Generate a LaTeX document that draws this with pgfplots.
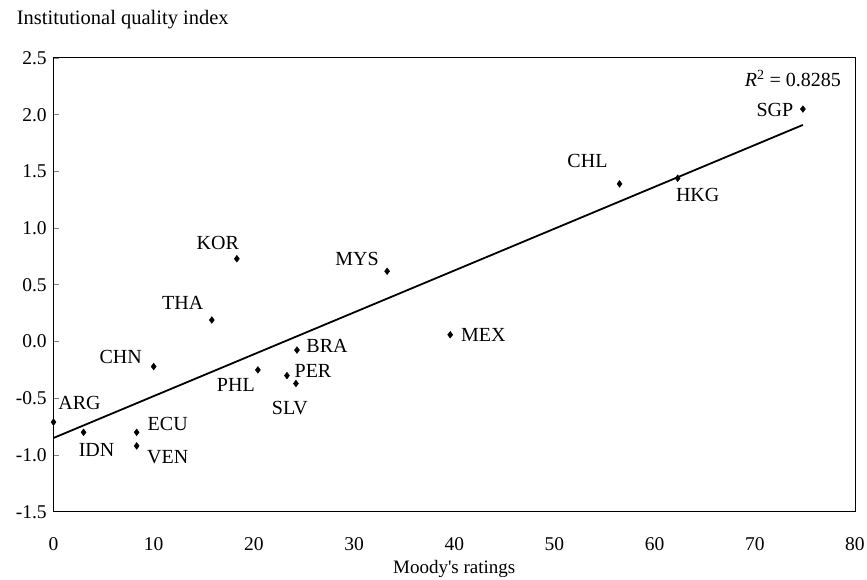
\documentclass[border=0pt]{standalone}
\usepackage{fontspec}
\setmainfont{Liberation Serif}
\newfontfamily\straight{Liberation Serif}[Ligatures=TeXOff]
\usepackage{pgfplots}
\pgfplotsset{compat=1.18}
\begin{document}
\fontsize{20}{24}\selectfont
\begin{tikzpicture}
\path[use as bounding box] (-53.5pt,-67.3pt) rectangle (813.5pt,511.7pt);
\begin{axis}[
  at={(0pt,0pt)}, anchor=south west,
  scale only axis, width=801.5pt, height=453.7pt,
  xmin=0, xmax=80, ymin=-1.5, ymax=2.5,
  xtick={0,10,...,80}, ytick={-1.5,-1,...,2.5},
  xtick style={draw=none},
  ytick pos=left, tick align=inside,
  major tick length=5pt,
  ytick style={line width=0.8pt},
  axis line style={line width=1pt},
  /pgf/number format/assume math mode=true,
  yticklabel style={/pgf/number format/fixed, /pgf/number format/fixed zerofill, /pgf/number format/precision=1, font=\fontsize{19.5}{22}\selectfont},
  xticklabel style={font=\fontsize{19.5}{22}\selectfont, yshift=-19pt},
  xlabel={Moody{\straight '}s ratings},
  xlabel style={font=\fontsize{19}{22}\selectfont, yshift=4pt},
  every node/.append style={font=\fontsize{20}{24}\selectfont},
  clip=false,
]
\addplot[only marks, mark=diamond*, mark size=3.4pt, black] coordinates {
(0,-0.71) (3.0,-0.80) (8.3,-0.80) (8.3,-0.92) (10.0,-0.22) (15.8,0.19)
(18.3,0.73) (33.3,0.62) (24.3,-0.075) (20.4,-0.25) (23.3,-0.30) (24.2,-0.37)
(39.6,0.06) (56.5,1.39) (62.3,1.44) (74.8,2.05)
};
\addplot[black, line width=1.8pt] coordinates {(0,-0.85) (74.8,1.91)};
\node at (axis cs:72.0,2.04) {SGP};
\node at (axis cs:73.8,2.32) {\textit{R}\textsuperscript{2} = 0.8285};
\node at (axis cs:53.3,1.59) {CHL};
\node at (axis cs:64.3,1.29) {HKG};
\node at (axis cs:16.4,0.87) {KOR};
\node at (axis cs:30.3,0.73) {MYS};
\node at (axis cs:12.9,0.34) {THA};
\node at (axis cs:27.3,-0.04) {BRA};
\node at (axis cs:42.9,0.06) {MEX};
\node at (axis cs:6.7,-0.14) {CHN};
\node at (axis cs:18.2,-0.38) {PHL};
\node at (axis cs:25.9,-0.26) {PER};
\node at (axis cs:23.6,-0.59) {SLV};
\node at (axis cs:2.6,-0.54) {ARG};
\node at (axis cs:4.3,-0.96) {IDN};
\node at (axis cs:11.4,-0.73) {ECU};
\node at (axis cs:11.4,-1.02) {VEN};
\end{axis}
\node[anchor=west] at (-43.5pt,491.7pt) {\fontsize{20.5}{24}\selectfont Institutional quality index};
\end{tikzpicture}
\end{document}
